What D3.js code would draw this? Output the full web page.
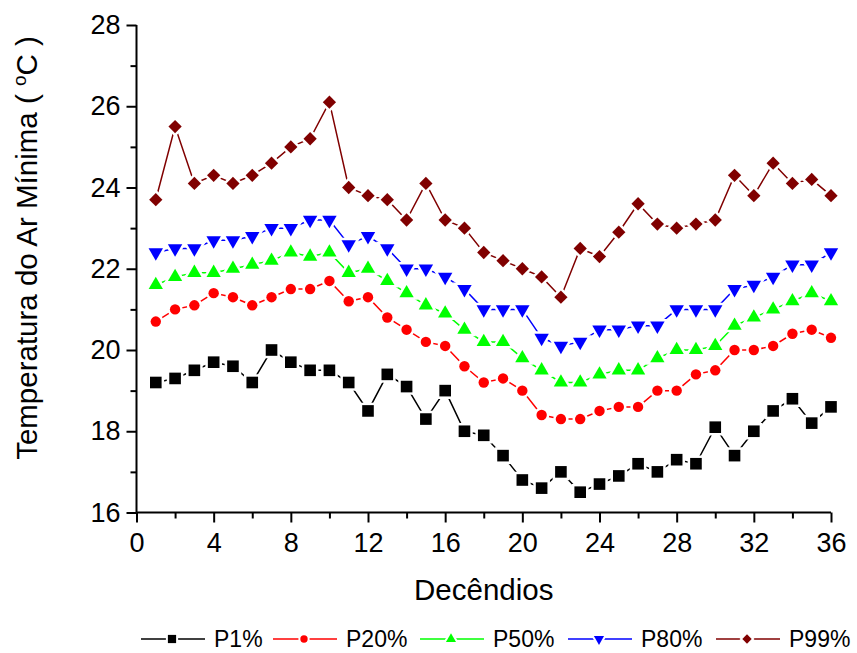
<!DOCTYPE html>
<html>
<head>
<meta charset="utf-8">
<script src="https://cdn.jsdelivr.net/npm/d3@7"></script>
<style>
  body { margin: 0; background: #fff; }
  text { font-family: "Liberation Sans", Arial, sans-serif; fill: #000; }
</style>
</head>
<body>
<div id="chart"></div>
<script>
// decendios 1..36
const decendios = d3.range(1, 37);

const p1 = [19.2, 19.3, 19.5, 19.7, 19.6, 19.2, 20.0, 19.7, 19.5, 19.5, 19.2, 18.5, 19.4, 19.1, 18.3, 19.0, 18.0, 17.9,
            17.4, 16.8, 16.6, 17.0, 16.5, 16.7, 16.9, 17.2, 17.0, 17.3, 17.2, 18.1, 17.4, 18.0, 18.5, 18.8, 18.2, 18.6];
const p20 = [20.7, 21.0, 21.1, 21.4, 21.3, 21.1, 21.3, 21.5, 21.5, 21.7, 21.2, 21.3, 20.8, 20.5, 20.2, 20.1, 19.6, 19.2,
             19.3, 19.0, 18.4, 18.3, 18.3, 18.5, 18.6, 18.6, 19.0, 19.0, 19.4, 19.5, 20.0, 20.0, 20.1, 20.4, 20.5, 20.3];
const p50 = [21.6, 21.8, 21.9, 21.9, 22.0, 22.1, 22.2, 22.4, 22.3, 22.4, 21.9, 22.0, 21.7, 21.4, 21.1, 20.9, 20.5, 20.2,
             20.2, 19.8, 19.5, 19.2, 19.2, 19.4, 19.5, 19.5, 19.8, 20.0, 20.0, 20.1, 20.6, 20.8, 21.0, 21.2, 21.4, 21.2];
const p80 = [22.4, 22.5, 22.5, 22.7, 22.7, 22.8, 23.0, 23.0, 23.2, 23.2, 22.6, 22.8, 22.5, 22.0, 22.0, 21.8, 21.5, 21.0,
             21.0, 21.0, 20.3, 20.1, 20.2, 20.5, 20.5, 20.6, 20.6, 21.0, 21.0, 21.0, 21.5, 21.6, 21.8, 22.1, 22.1, 22.4];
const p99 = [23.7, 25.5, 24.1, 24.3, 24.1, 24.3, 24.6, 25.0, 25.2, 26.1, 24.0, 23.8, 23.7, 23.2, 24.1, 23.2, 23.0, 22.4,
             22.2, 22.0, 21.8, 21.3, 22.5, 22.3, 22.9, 23.6, 23.1, 23.0, 23.1, 23.2, 24.3, 23.8, 24.6, 24.1, 24.2, 23.8];

const seriesNames = ['P1%', 'P20%', 'P50%', 'P80%', 'P99%'];
const seriesValues = [p1, p20, p50, p80, p99];

const xTicks = [0, 4, 8, 12, 16, 20, 24, 28, 32, 36];
const yTicks = [16, 18, 20, 22, 24, 26, 28];

// styles
const colors = ['#000000', '#ff0000', '#00ff00', '#0000ff', '#800000'];
const symbols = [d3.symbolSquare, d3.symbolCircle, d3.symbolTriangle, d3.symbolTriangle, d3.symbolSquare];
const symSize = [135, 85, 88, 90, 88];
const symRot = [0, 0, 0, 180, 45];

const width = 857, height = 653;
const margin = { left: 136.5, right: 26, top: 25, bottom: 140.5 };

const svg = d3.select('#chart').append('svg')
    .attr('width', width)
    .attr('height', height);

const x = d3.scaleLinear().domain([0, 36]).range([margin.left, width - margin.right]);
const y = d3.scaleLinear().domain([16, 28]).range([height - margin.bottom, margin.top]);

// x axis
let xAxis = svg.append('g')
    .attr('transform', `translate(0,${y(16)})`)
    .call(d3.axisBottom(x).tickValues(d3.range(0, 37, 2)).tickSize(10).tickFormat(d => xTicks.includes(d) ? d : ''));
xAxis.select('.domain').attr('stroke-width', 2).attr('d', `M${x(0)},0H${x(36)}`);
xAxis.selectAll('.tick line').attr('stroke-width', 2)
    .attr('y2', d => xTicks.includes(d) ? 10 : 6);
xAxis.selectAll('.tick text').attr('font-size', 27).attr('y', 20)
    .style('font-family', '"Liberation Sans", Arial, sans-serif');

// y axis
let yAxis = svg.append('g')
    .attr('transform', `translate(${x(0)},0)`)
    .call(d3.axisLeft(y).tickValues(d3.range(16, 29, 1)).tickSize(10).tickFormat(d => yTicks.includes(d) ? d : ''));
yAxis.select('.domain').attr('stroke-width', 2).attr('d', `M0,${y(28)}V${y(16)}`);
yAxis.selectAll('.tick line').attr('stroke-width', 2)
    .attr('x2', d => yTicks.includes(d) ? -10 : -6);
yAxis.selectAll('.tick text').attr('font-size', 27).attr('x', -16)
    .style('font-family', '"Liberation Sans", Arial, sans-serif');

// axis titles
svg.append('text')
    .attr('x', (x(0) + x(36)) / 2)
    .attr('y', 600)
    .attr('text-anchor', 'middle')
    .attr('font-size', 29.5)
    .text('Decêndios');

let yTitle = svg.append('text')
    .attr('transform', 'translate(37,248) rotate(-90)')
    .attr('text-anchor', 'middle')
    .attr('font-size', 29.5);
yTitle.append('tspan').text('Temperatura do Ar Mínima ( ');
yTitle.append('tspan').attr('font-size', 19).attr('dy', -11).text('o');
yTitle.append('tspan').attr('dy', 11).text('C )');

// series
let line = d3.line()
    .x((d, i) => x(decendios[i]))
    .y(d => y(d));

seriesValues.forEach((vals, k) => {
    let g = svg.append('g');
    g.append('path')
        .datum(vals)
        .attr('d', line)
        .attr('fill', 'none')
        .attr('stroke', colors[k])
        .attr('stroke-width', 1.5);

    g.selectAll('path.pt')
        .data(vals)
        .enter().append('path')
        .attr('class', 'pt')
        .attr('d', d3.symbol().type(symbols[k]).size(symSize[k]))
        .attr('transform', (d, i) => `translate(${x(decendios[i])},${y(d)}) rotate(${symRot[k]})`)
        .attr('fill', colors[k])
        .attr('stroke', '#fff')
        .attr('stroke-width', 5)
        .style('paint-order', 'stroke fill');
});

// legend
const legendX = [141, 273, 420, 568, 716];
let legend = svg.append('g').attr('transform', 'translate(0,639)');
seriesNames.forEach((name, k) => {
    let item = legend.append('g').attr('transform', `translate(${legendX[k]},0)`);
    item.append('line')
        .attr('x1', 0).attr('x2', 64)
        .attr('stroke', colors[k])
        .attr('stroke-width', 1.5);
    item.append('path')
        .attr('d', d3.symbol().type(symbols[k]).size(symSize[k] * 0.5))
        .attr('transform', `translate(31,0) rotate(${symRot[k]})`)
        .attr('fill', colors[k])
        .attr('stroke', '#fff')
        .attr('stroke-width', 4)
        .style('paint-order', 'stroke fill');
    item.append('text')
        .attr('x', 73)
        .attr('y', 8)
        .attr('font-size', 23)
        .text(name);
});
</script>
</body>
</html>
